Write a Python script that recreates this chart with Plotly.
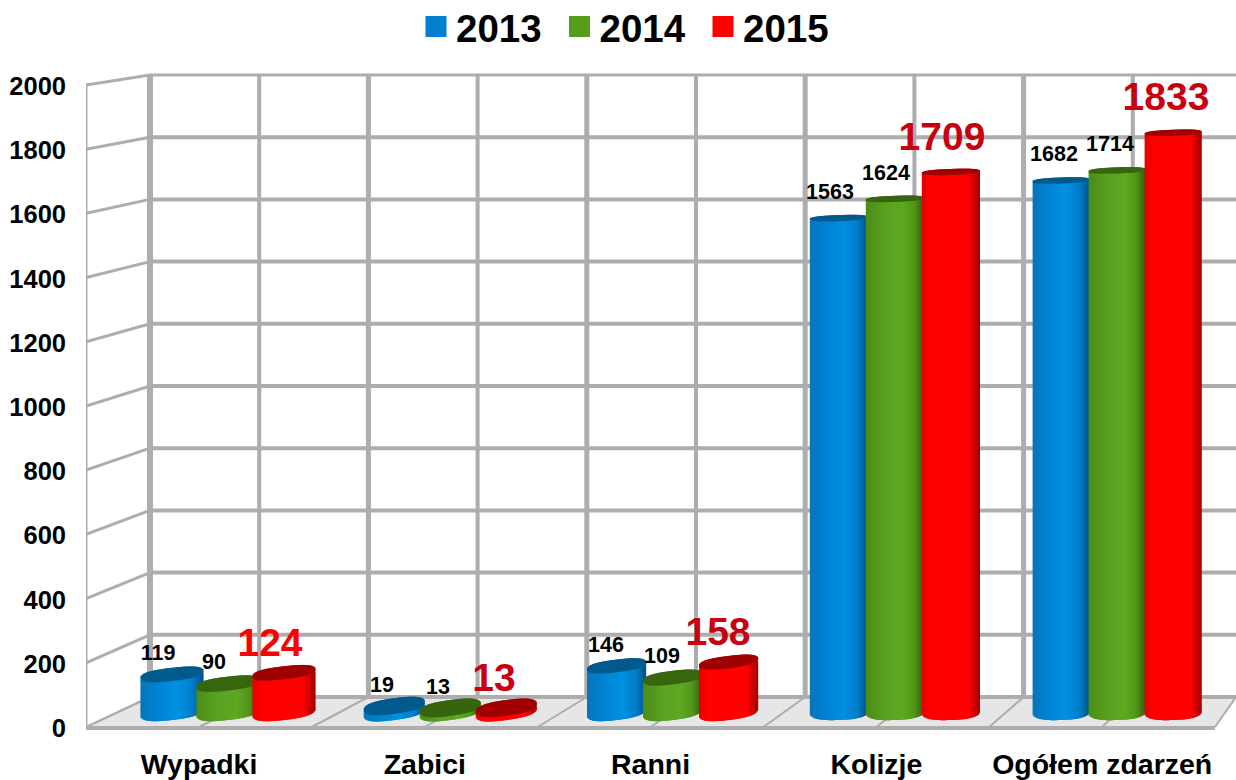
import math
import plotly.graph_objects as go

categories = ["Wypadki", "Zabici", "Ranni", "Kolizje", "Ogółem zdarzeń"]
years = ["2013", "2014", "2015"]
values_2013 = [119, 19, 146, 1563, 1682]
values_2014 = [90, 13, 109, 1624, 1714]
values_2015 = [124, 13, 158, 1709, 1833]
y_ticks = [0, 200, 400, 600, 800, 1000, 1200, 1400, 1600, 1800, 2000]

series = [values_2013, values_2014, values_2015]
swatch = ["#0080CF", "#579D1C", "#FF0000"]
cap_colors = ["#005A8E", "#38660F", "#A00000"]
stops = [
    [(-1, "#0A74B8"), (-.5, "#0082D2"), (.2, "#0090E2"), (.7, "#007CC6"), (1, "#00558C")],
    [(-1, "#4C8C18"), (-.3, "#5AA220"), (.3, "#5EA822"), (.7, "#529619"), (1, "#33660F")],
    [(-1, "#E60000"), (-.7, "#FF0000"), (.65, "#FF0000"), (1, "#A80000")],
]
red_label_colors = ["#FF0000", "#C9000F", "#C9000F", "#C9000F", "#C9000F"]
bar_widths_px = [62, 60, 58, 57, 56]
bar_tilts_px = [3.5, 4, 3.5, 1, 1]

PLOT_L, PLOT_R, PLOT_B = 86, 1236, 740
AXIS_Y0, FRONT_K = 728, 0.321
FRONT_Y0 = 727
BACK_Y0, BACK_K = 697, 0.311
BAR_Y0, BAR_K = 712, 0.316
BAR_X0, BAR_DX, BAR_STEP = 228, 222.3, 56
FRONT_X0, FRONT_DX = 199, 225.8
BACK_L, BACK_STEP = 150, 109.2
FRONT_STEP = 112.9
GRID = "#ADADAD"
FONT = "Liberation Sans"
ROUND = 2.6


def hex_rgb(c):
    return [int(c[i:i + 2], 16) for i in (1, 3, 5)]


def shade(s, u):
    st = stops[s]
    for (a, ca), (b, cb) in zip(st, st[1:]):
        if u <= b:
            f = (u - a) / (b - a)
            ra, rb = hex_rgb(ca), hex_rgb(cb)
            return "rgb(%d,%d,%d)" % tuple(round(p + (q - p) * f) for p, q in zip(ra, rb))
    return st[-1][1]


def arc(u):
    return (1 - abs(u) ** ROUND) ** (1 / ROUND)


def fx(px):
    return (px - FRONT_X0) / FRONT_DX


def fy(py):
    return (AXIS_Y0 - py) / FRONT_K


fig = go.Figure()

# Cylinders: thin bars drawn with the library's bar scale
for s, vals in enumerate(series):
    xs, ys, bases, cols, widths = [], [], [], [], []
    for i, v in enumerate(vals):
        wpx = bar_widths_px[i]
        N = wpx
        tilt = bar_tilts_px[i]
        b_top = max(3, 8 - 0.012 * v)
        b_bot = 8
        cx = i + (s - 1) * BAR_STEP / BAR_DX
        slice_w = wpx / N * 2.2 / BAR_DX
        for k in range(N):
            u = -1 + (k + .5) * 2 / N
            sq = arc(u)
            x = cx + u * wpx / 2 / BAR_DX
            lo = (tilt * u - b_bot * sq) / BAR_K
            hi = v + (tilt * u - b_top * sq) / BAR_K
            xs.append(x); ys.append(hi - lo); bases.append(lo)
            cols.append(shade(s, u)); widths.append(slice_w)
        for k in range(N):
            u = -1 + (k + .5) * 2 / N
            sq = arc(u)
            x = cx + u * wpx / 2 / BAR_DX
            xs.append(x)
            ys.append(2 * b_top * sq / BAR_K)
            bases.append(v + (tilt * u - b_top * sq) / BAR_K)
            cols.append(cap_colors[s]); widths.append(slice_w)
    fig.add_trace(go.Bar(x=xs, y=ys, base=bases, width=widths, xaxis="x2", yaxis="y2",
                         marker=dict(color=cols, line=dict(width=0)), showlegend=False,
                         hoverinfo="skip"))

# Value labels
for s, vals in enumerate(series):
    big = s == 2
    lx = [i * 224 / BAR_DX + ((158 + 56 * s) - BAR_X0) / BAR_DX for i in range(5)]
    ly = [v + (84 + .0098 * v if big else 61 + .01 * v) for v in vals]
    fig.add_trace(go.Scatter(
        x=lx, y=ly, text=[str(v) for v in vals], mode="text", xaxis="x2", yaxis="y2",
        textposition="middle center", showlegend=False, hoverinfo="skip", cliponaxis=False,
        textfont=dict(family=FONT, weight="bold", size=39 if big else 21.5,
                      color=red_label_colors if big else "#000000")))

# Legend
for s, yr in enumerate(years):
    fig.add_trace(go.Scatter(x=[None], y=[None], name=yr, mode="markers",
                             marker=dict(symbol="square", size=16, color=swatch[s],
                                         line=dict(color=swatch[s], width=5))))

# Walls and floor
shapes = []
def seg(x0, y0, x1, y1, w):
    shapes.append(dict(type="line", xref="x", yref="y", layer="between",
                       x0=fx(x0), y0=fy(y0), x1=fx(x1), y1=fy(y1),
                       line=dict(color=GRID, width=w)))

floor = "M %f %f L %f %f L %f %f L %f %f Z" % (
    fx(PLOT_L), fy(FRONT_Y0), fx(1215), fy(FRONT_Y0), fx(1236), fy(BACK_Y0), fx(BACK_L), fy(BACK_Y0))
shapes.append(dict(type="path", path=floor, fillcolor="#E6E6E6", line=dict(width=0), layer="between",
                   xref="x", yref="y"))
for k in range(11):
    seg(PLOT_L + FRONT_STEP * k, FRONT_Y0, min(BACK_L + BACK_STEP * k, 1236), BACK_Y0, 2)
for k in range(1, 10):
    seg(BACK_L + BACK_STEP * k, BACK_Y0, BACK_L + BACK_STEP * k, BACK_Y0 - BACK_K * 2000, 4 if k % 2 else 5)
for v in y_ticks:
    seg(BACK_L, BACK_Y0 - BACK_K * v, 1236, BACK_Y0 - BACK_K * v, 3 if v == 2000 else 4)
    seg(PLOT_L, FRONT_Y0 - FRONT_K * v, BACK_L, BACK_Y0 - BACK_K * v, 3 if v else 2)
seg(PLOT_L, FRONT_Y0, PLOT_L, FRONT_Y0 - FRONT_K * 2000, 3)
seg(BACK_L, BACK_Y0, BACK_L, BACK_Y0 - BACK_K * 2000, 6)
seg(PLOT_L, FRONT_Y0 + 1, 1215, FRONT_Y0 + 1, 4)

W = PLOT_R - PLOT_L
fig.update_layout(
    width=1236, height=780, margin=dict(l=PLOT_L, r=0, t=0, b=780 - PLOT_B, autoexpand=False),
    paper_bgcolor="white", plot_bgcolor="white", barmode="overlay", shapes=shapes,
    legend=dict(orientation="h", x=(416 - PLOT_L) / W, xanchor="left", y=1 + 5 / PLOT_B, yanchor="top",
                entrywidth=98.5, entrywidthmode="pixels", itemwidth=30, bgcolor="rgba(0,0,0,0)",
                font=dict(family=FONT, size=38.5, weight="bold", color="#000000")),
    xaxis=dict(range=[fx(PLOT_L), fx(PLOT_R)], tickmode="array", tickvals=list(range(5)), ticktext=categories,
               showgrid=False, zeroline=False, showline=False, ticks="", ticklabelstandoff=4,
               tickfont=dict(family=FONT, size=28.5, weight="bold", color="#000000")),
    yaxis=dict(range=[fy(PLOT_B), fy(0)], tickmode="array", tickvals=y_ticks, showgrid=False, zeroline=False,
               showline=False, ticks="", ticklabelstandoff=19,
               tickfont=dict(family=FONT, size=25.5, weight="bold", color="#000000")),
    xaxis2=dict(overlaying="x", range=[(PLOT_L - BAR_X0) / BAR_DX, (PLOT_R - BAR_X0) / BAR_DX], visible=False),
    yaxis2=dict(overlaying="y", range=[(BAR_Y0 - PLOT_B) / BAR_K, BAR_Y0 / BAR_K], visible=False),
)
fig.add_trace(go.Scatter(x=[None], y=[None], xaxis="x", yaxis="y", showlegend=False, hoverinfo="skip"))

fig.write_html("out.html", post_script="document.body.style.margin='0';",
               config={"displayModeBar": False})
